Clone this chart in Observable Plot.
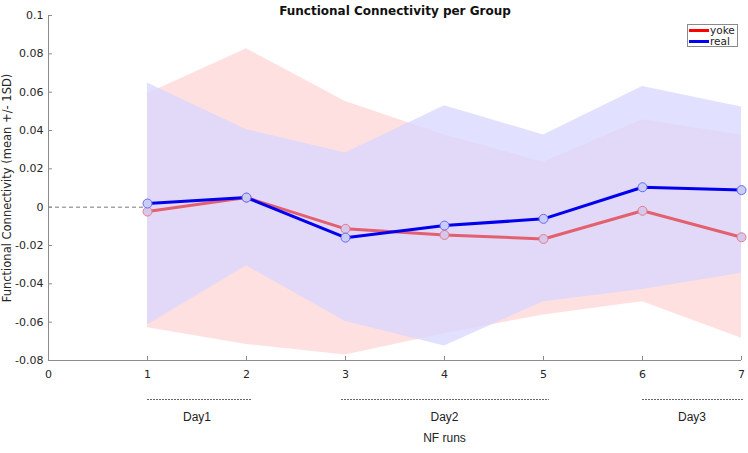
<!DOCTYPE html>
<html>
<head>
<meta charset="utf-8">
<script src="https://cdn.jsdelivr.net/npm/d3@7"></script>
<script src="https://cdn.jsdelivr.net/npm/@observablehq/plot@0.6"></script>
<style>
  html, body { margin: 0; padding: 0; background: #fff; }
  #wrap { position: relative; width: 748px; height: 453px; }
  #legend {
    position: absolute; left: 687px; top: 24px; width: 49px; height: 21px;
    border: 1px solid #8a8a8a; background: #fff;
    font-family: "DejaVu Sans", sans-serif; font-size: 10.5px; color: #222;
  }
  .lrow { position: absolute; left: 1px; display: flex; align-items: center; height: 10px; line-height: 10px; }
  .lsw { width: 20px; height: 3px; margin-right: 1px; }
</style>
</head>
<body>
<div id="wrap"></div>
<script>
// ---- data ----
const runs = [1, 2, 3, 4, 5, 6, 7];
const yokeMean  = [-0.0023, 0.0050, -0.0113, -0.0145, -0.0166, -0.0019, -0.0157];
const yokeUpper = [0.0592, 0.0827, 0.0551, 0.0377, 0.0235, 0.0456, 0.0377];
const yokeLower = [-0.0629, -0.0716, -0.0771, -0.0660, -0.0562, -0.0493, -0.0684];
const realMean  = [0.0019, 0.0050, -0.0159, -0.0096, -0.0061, 0.0104, 0.0089];
const realUpper = [0.0648, 0.0404, 0.0282, 0.0529, 0.0377, 0.0630, 0.0522];
const realLower = [-0.0615, -0.0306, -0.0597, -0.0724, -0.0493, -0.0430, -0.0345];
const xTicks = [0, 1, 2, 3, 4, 5, 6, 7];
const yTicks = [-0.08, -0.06, -0.04, -0.02, 0, 0.02, 0.04, 0.06, 0.08, 0.1];
const dayLabels = ["Day1", "Day2", "Day3"];
const dayStart = [1, 2.96, 6.0];
const dayEnd = [2.06, 5.06, 7.02];
const dayCenter = [1.5, 4.0, 6.5];
const seriesNames = ["yoke", "real"];
const titleText = "Functional Connectivity per Group";
const yLabelText = "Functional Connectivity (mean +/- 1SD)";
const xLabelText = "NF runs";

// ---- build tables ----
const yoke = runs.map((r, i) => ({run: r, mean: yokeMean[i], hi: yokeUpper[i], lo: yokeLower[i]}));
const real = runs.map((r, i) => ({run: r, mean: realMean[i], hi: realUpper[i], lo: realLower[i]}));
const days = dayLabels.map((d, i) => ({label: d, start: dayStart[i], end: dayEnd[i], mid: dayCenter[i]}));
const zeroRef = [{from: 0, to: 1, y: 0}];

const W = 748, H = 453, mL = 48, mR = 7, mT = 15, mB = 93;
const innerW = W - mL - mR, innerH = H - mT - mB;
const axisColor = "#8c8c8c";
const fmt = d => String(+d.toFixed(2));

const chart = Plot.plot({
  width: W, height: H,
  marginLeft: mL, marginRight: mR, marginTop: mT, marginBottom: mB,
  style: {fontFamily: "DejaVu Sans, sans-serif", fontSize: "11px", color: "#262626", background: "#fff"},
  x: {domain: [0, 7]},
  y: {domain: [-0.08, 0.1]},
  marks: [
    Plot.areaY(yoke, {x: "run", y1: "lo", y2: "hi", fill: "#ff0000", fillOpacity: 0.12}),
    Plot.areaY(real, {x: "run", y1: "lo", y2: "hi", fill: "#d5d5ff", fillOpacity: 0.72}),
    Plot.ruleY(zeroRef, {x1: "from", x2: "to", y: "y", stroke: "#777", strokeDasharray: "4,3", strokeWidth: 1}),
    Plot.ruleX([0], {stroke: axisColor}),
    Plot.ruleY([-0.08], {stroke: axisColor}),
    Plot.tickX(xTicks, {x: d => d, insetTop: innerH - 4, stroke: axisColor}),
    Plot.tickY(yTicks, {y: d => d, insetRight: innerW - 4, stroke: axisColor}),
    Plot.axisX({ticks: xTicks, tickFormat: fmt, tickSize: 0, tickPadding: 10, label: null, fontSize: 11}),
    Plot.axisY({ticks: yTicks, tickFormat: fmt, tickSize: 0, tickPadding: 5, label: null, fontSize: 11}),
    Plot.line(yoke, {x: "run", y: "mean", stroke: "#e2606f", strokeWidth: 3}),
    Plot.dot(yoke, {x: "run", y: "mean", r: 4.5, fill: "#d6c8ea", stroke: "#e47c8c", strokeWidth: 1}),
    Plot.line(real, {x: "run", y: "mean", stroke: "#0000ee", strokeWidth: 3}),
    Plot.dot(real, {x: "run", y: "mean", r: 4.5, fill: "#c8ccf6", stroke: "#6a6af0", strokeWidth: 1}),
    Plot.ruleY(days, {x1: "start", x2: "end", y: () => -0.08, dy: 39, stroke: "#666", strokeDasharray: "2,1", strokeWidth: 1}),
    Plot.text(days, {x: "mid", text: "label", frameAnchor: "bottom", dy: 60, fontFamily: "Liberation Sans, Arial, sans-serif", fontSize: 12, fill: "#222"}),
    Plot.text([xLabelText], {x: () => 4, text: d => d, frameAnchor: "bottom", dy: 81, fontFamily: "Liberation Sans, Arial, sans-serif", fontSize: 12, fill: "#222"}),
    Plot.text([titleText], {x: () => 3.5, text: d => d, frameAnchor: "top", dy: -9, fontWeight: "bold", fontSize: 12, fill: "#111"}),
    Plot.text([yLabelText], {text: d => d, frameAnchor: "left", textAnchor: "middle", dx: -41, rotate: -90, fontSize: 11.5, fill: "#262626"})
  ]
});

const wrap = document.getElementById("wrap");
wrap.appendChild(chart);

// legend
const legend = document.createElement("div");
legend.id = "legend";
const legendColors = ["#ff0000", "#0000ff"];
seriesNames.forEach((name, i) => {
  const row = document.createElement("div");
  row.className = "lrow";
  row.style.top = (i * 11) + "px";
  const sw = document.createElement("span");
  sw.className = "lsw";
  sw.style.background = legendColors[i];
  const t = document.createElement("span");
  t.textContent = name;
  row.appendChild(sw);
  row.appendChild(t);
  legend.appendChild(row);
});
wrap.appendChild(legend);
</script>
</body>
</html>
